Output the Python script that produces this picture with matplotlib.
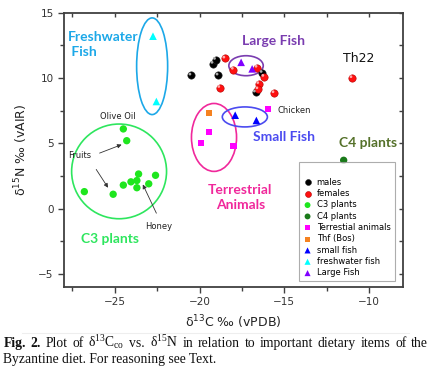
import matplotlib.pyplot as plt
from matplotlib.patches import Ellipse

# data (d13C, d15N)
males_x = [-20.5, -19.2, -19.05, -18.9, -16.3, -16.7]
males_y = [10.2, 11.1, 11.4, 10.2, 10.4, 8.9]
females_x = [-18.5, -18.0, -16.6, -16.2, -16.5, -16.55, -18.8, -15.6, -11.0]
females_y = [11.5, 10.65, 10.8, 10.1, 9.55, 9.15, 9.25, 8.85, 10.0]
c3_x = [-26.8, -25.1, -24.5, -24.05, -23.7, -23.6, -23.7, -23.0, -22.6, -24.5, -24.3]
c3_y = [1.3, 1.1, 1.8, 2.05, 2.15, 2.65, 1.6, 1.9, 2.55, 6.1, 5.2]
c4_x = [-11.5]
c4_y = [3.7]
terr_x = [-15.95, -19.45, -19.9, -18.0]
terr_y = [7.6, 5.85, 5.05, 4.8]
bos_x = [-19.45]
bos_y = [7.3]
small_fish_x = [-17.9, -16.65]
small_fish_y = [7.15, 6.75]
fresh_fish_x = [-22.75, -22.55]
fresh_fish_y = [13.2, 8.2]
large_fish_x = [-17.55, -16.9]
large_fish_y = [11.2, 10.7]

xticks = [-25, -20, -15, -10]
yticks = [-5, 0, 5, 10, 15]
xminor = [-27.5, -22.5, -17.5, -12.5]
yminor = [-2.5, 2.5, 7.5, 12.5]

caption_line1 = ['Fig.', '2.', 'Plot', 'of', 'δ$\\mathregular{^{13}}$C$\\mathregular{_{co}}$', 'vs.',
                 'δ$\\mathregular{^{15}}$N', 'in', 'relation', 'to', 'important', 'dietary',
                 'items', 'of', 'the']
caption_line2 = 'Byzantine diet. For reasoning see Text.'

axis_col = '#404040'
group_font = dict(family='Lato', fontweight='bold', fontsize=10)

fig = plt.figure(figsize=(4.31, 3.82), dpi=100)
ax = fig.add_axes([0.1485, 0.2487, 0.7865, 0.7181])

ax.scatter(males_x, males_y, s=28, c='black', edgecolors='#222222', linewidths=0.4, zorder=4, label='males')
ax.scatter(females_x, females_y, s=28, c='#ff1010', edgecolors='#b00000', linewidths=0.4, zorder=4, label='females')
ax.scatter(c3_x, c3_y, s=28, c='#1ee61e', edgecolors='none', zorder=4, label='C3 plants')
ax.scatter(c4_x, c4_y, s=28, c='#1a7a1a', edgecolors='none', zorder=4, label='C4 plants')
ax.scatter(terr_x, terr_y, s=20, marker='s', c='#ff00ff', edgecolors='none', zorder=4, label='Terrestial animals')
ax.scatter(bos_x, bos_y, s=20, marker='s', c='#f58220', edgecolors='none', zorder=4, label='Thf (Bos)')
ax.scatter(small_fish_x, small_fish_y, s=30, marker='^', c='#0000ff', edgecolors='none', zorder=4, label='small fish')
ax.scatter(fresh_fish_x, fresh_fish_y, s=30, marker='^', c='#00ffff', edgecolors='none', zorder=4, label='freshwater fish')
ax.scatter(large_fish_x, large_fish_y, s=30, marker='^', c='#8000ff', edgecolors='none', zorder=4, label='Large Fish')

# small highlight on the ball markers
ax.scatter([x - 0.07 for x in males_x], [y + 0.1 for y in males_y], s=4, c='#aaaaaa', edgecolors='none', zorder=5)
ax.scatter([x - 0.07 for x in females_x], [y + 0.1 for y in females_y], s=4, c='#ffaaaa', edgecolors='none', zorder=5)

# group ellipses
ax.add_patch(Ellipse((-22.8, 10.9), 1.83, 7.4, fill=False, ec='#1ca8e8', lw=1.2, zorder=3))
ax.add_patch(Ellipse((-24.75, 2.85), 5.6, 7.25, fill=False, ec='#2ee65e', lw=1.2, zorder=3))
ax.add_patch(Ellipse((-19.15, 5.45), 2.66, 5.2, fill=False, ec='#f0289b', lw=1.2, zorder=3))
ax.add_patch(Ellipse((-17.33, 7.02), 2.66, 1.53, fill=False, ec='#4b4bf0', lw=1.2, zorder=3))
ax.add_patch(Ellipse((-17.26, 10.94), 2.03, 1.53, fill=False, ec='#7a3db0', lw=1.2, zorder=3))

# group labels
ax.text(-27.75, 12.55, 'Freshwater\n Fish', color='#1ca8e8', va='center', ha='left',
        linespacing=1.3, **group_font)
ax.text(-17.5, 12.8, 'Large Fish', color='#7a3db0', va='center', **group_font)
ax.text(-16.85, 5.45, 'Small Fish', color='#4b4bf0', va='center', **group_font)
ax.text(-11.8, 5.05, 'C4 plants', color='#55712a', va='center', **group_font)
ax.text(-17.6, 0.88, 'Terrestrial\nAnimals', color='#f0289b', va='center', ha='center',
        linespacing=1.3, **group_font)
ax.text(-27.0, -2.3, 'C3 plants', color='#2ee65e', va='center', **group_font)

# small annotations
ax.text(-24.85, 7.05, 'Olive Oil', fontsize=6, color='#222222', ha='center', va='center')
ax.text(-27.75, 4.05, 'Fruits', fontsize=6, color='#222222', ha='left', va='center')
ax.text(-22.4, -1.35, 'Honey', fontsize=6, color='#222222', ha='center', va='center')
ax.text(-15.4, 7.5, 'Chicken', fontsize=6, color='#222222', ha='left', va='center')
ax.text(-10.6, 11.5, 'Th22', fontsize=9, color='#111111', ha='center', va='center')
arrow = dict(arrowstyle='-|>', color='#333333', lw=0.6, mutation_scale=6, shrinkA=0, shrinkB=0)
ax.annotate('', xy=(-24.6, 4.9), xytext=(-25.9, 4.25), arrowprops=arrow)
ax.annotate('', xy=(-25.4, 1.6), xytext=(-26.1, 3.0), arrowprops=arrow)
ax.annotate('', xy=(-23.35, 1.85), xytext=(-22.55, -0.35), arrowprops=arrow)

ax.set_xlim(-28, -8)
ax.set_ylim(-6, 15)
ax.set_xticks(xticks)
ax.set_yticks(yticks)
ax.set_xticks(xminor, minor=True)
ax.set_yticks(yminor, minor=True)
ax.tick_params(which='both', direction='out', colors=axis_col, labelsize=7.5, labelcolor='#333333')
ax.tick_params(which='major', length=4, width=1)
ax.tick_params(which='minor', length=3, width=1)
for sp in ax.spines.values():
    sp.set_color(axis_col)
    sp.set_linewidth(1.3)

# mirrored inward ticks on top and right
top = ax.secondary_xaxis('top')
top.set_xticks(xticks + xminor)
top.tick_params(direction='in', length=3, width=1, colors=axis_col, labeltop=False)
top.spines['top'].set_visible(False)
right = ax.secondary_yaxis('right')
right.set_yticks(yticks + yminor)
right.tick_params(direction='in', length=3, width=1, colors=axis_col, labelright=False)
right.spines['right'].set_visible(False)

ax.set_xlabel('δ$\\mathregular{^{13}}$C ‰ (vPDB)', fontsize=9, color='#222222', labelpad=4)
ax.set_ylabel('δ$\\mathregular{^{15}}$N ‰ (vAIR)', fontsize=9, color='#222222', labelpad=6)

leg = ax.legend(loc='lower right', bbox_to_anchor=(0.988, 0.005), fontsize=6, title=' ',
                title_fontsize=6, frameon=True, fancybox=False, edgecolor='#999999',
                handlelength=1.0, handletextpad=0.6, labelspacing=0.28, borderpad=0.5,
                markerscale=0.8)
leg.get_frame().set_linewidth(0.8)

# faint rule above caption
fig.add_artist(plt.Line2D([0.05, 0.95], [0.128, 0.128], color='#eeeeee', lw=0.8))

# caption, first line justified word by word
cap = dict(fontsize=9.8, family='Liberation Serif', color='#111111')
r = fig.canvas.get_renderer()
x0, x1 = 0.008, 0.993
words = []
for i, w in enumerate(caption_line1):
    t = fig.text(0, 0.092, w, fontweight='bold' if i < 2 else 'normal', **cap)
    words.append((t, t.get_window_extent(r).width / fig.bbox.width))
gap = (x1 - x0 - sum(wd for _, wd in words)) / (len(words) - 1)
xpos = x0
for t, wd in words:
    t.set_x(xpos)
    xpos += wd + gap
fig.text(x0, 0.05, caption_line2, **cap)

fig.savefig('out.png', dpi=100)
